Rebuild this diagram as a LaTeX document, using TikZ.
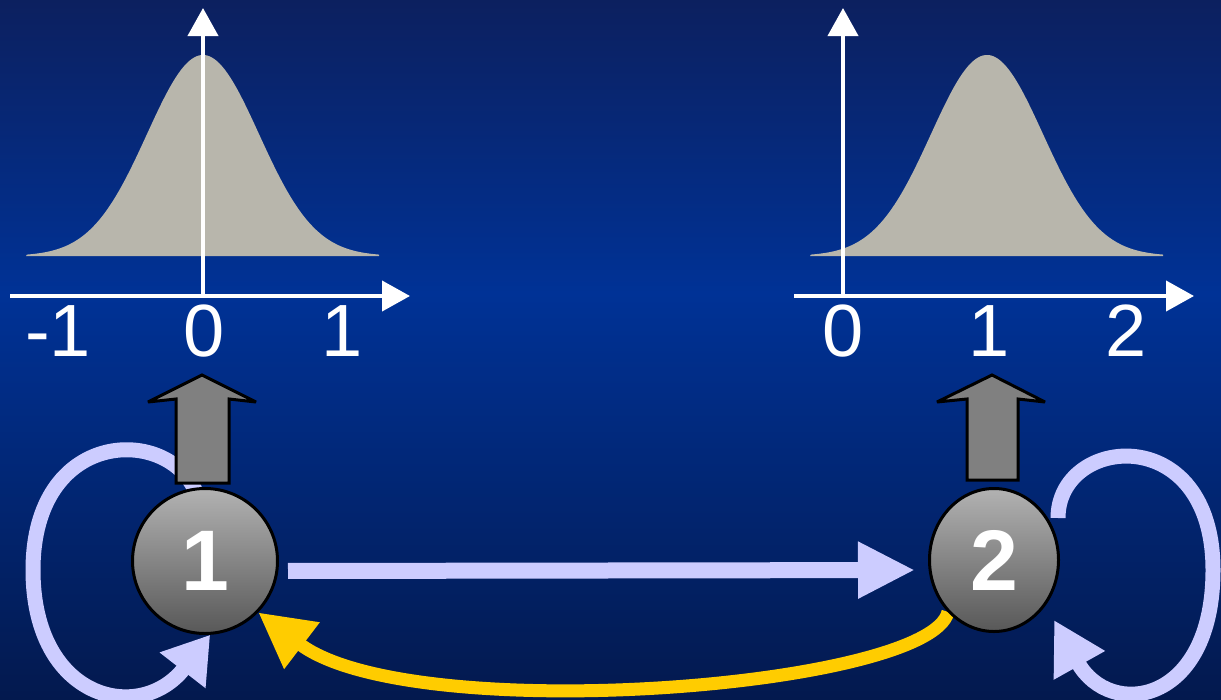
\documentclass[tikz,border=0pt]{standalone}
\usepackage{fontspec}
\setmainfont{Liberation Sans}
\usetikzlibrary{arrows.meta,shapes.geometric,calc}
\definecolor{bgtop}{RGB}{12,32,95}
\definecolor{bgmid}{RGB}{0,50,150}
\definecolor{bgbot}{RGB}{3,25,78}
\definecolor{gaussgray}{RGB}{184,182,172}
\definecolor{lavender}{RGB}{204,204,255}
\definecolor{yel}{RGB}{255,204,0}
\definecolor{blockgray}{RGB}{128,128,128}
\definecolor{nodetop}{RGB}{178,178,178}
\definecolor{nodebot}{RGB}{88,88,88}
\pgfdeclareverticalshading{bgshade}{100bp}{color(0bp)=(bgbot); color(25bp)=(bgbot); color(54bp)=(bgmid); color(75bp)=(bgtop); color(100bp)=(bgtop)}
\pgfdeclarelayer{bg}
\pgfdeclarelayer{mid}
\pgfsetlayers{bg,mid,main}
\begin{document}
\begin{tikzpicture}[x=1pt,y=-1pt,
  axis/.style={white,line width=4pt,-{Triangle[width=30pt,length=28pt]}},
  gauss/.style={fill=gaussgray},
  tick/.style={white,font=\fontsize{74}{80}\selectfont,anchor=base,inner sep=0pt},
  state/.style={draw=black,line width=3pt,top color=nodetop,bottom color=nodebot,text=white,font=\bfseries\fontsize{86}{90}\selectfont,inner sep=0pt},
  lav/.style={draw=lavender,line width=15pt},
  yelarrow/.style={draw=yel,line width=13pt},
  blockarrow/.style={fill=blockgray,draw=black,line width=3pt,line join=miter,miter limit=3}
]
\useasboundingbox (0,0) rectangle (1221,699);
\begin{pgfonlayer}{bg}
\shade[shading=bgshade] (0,0) rectangle (1221,699);
% left distribution
\fill[gauss] (26,256) -- plot[domain=-176:176,samples=140] ({203+\x},{256-201*exp(-0.5*(\x/56)^2)}) -- (379,256) -- cycle;
\draw[axis] (10,296) -- (410,296);
\draw[axis] (203,296) -- (203,8);
% right distribution
\fill[gauss] (810,256) -- plot[domain=-176:176,samples=140] ({987+\x},{256-201*exp(-0.5*(\x/56)^2)}) -- (1163,256) -- cycle;
\draw[axis] (794,296) -- (1194,296);
\draw[axis] (843,296) -- (843,8);
\end{pgfonlayer}
\node[tick] (la) at (58,356) {-1};
\node[tick] (lb) at (204,356) {0};
\node[tick] (lc) at (342,356) {1};
\node[tick] (ra) at (843,356) {0};
\node[tick] (rb) at (989,356) {1};
\node[tick] (rc) at (1126,356) {2};
% states
\node[state,circle,minimum size=145pt] (n1) at (205,561) {1};
\node[state,ellipse,minimum width=129pt,minimum height=143pt] (n2) at (994,560) {2};
% block arrows
\begin{scope}[shift={(n1.north)}]
\draw[blockarrow] (-29,-4) -- (-29,-88) -- (-57,-85) -- (-3,-112) -- (51,-85) -- (24,-88) -- (24,-4) -- cycle;
\end{scope}
\begin{scope}[shift={(n2.north)}]
\draw[blockarrow] (-27,-7) -- (-27,-88) -- (-57,-85) -- (-2,-112) -- (51,-85) -- (24,-88) -- (24,-7) -- cycle;
\end{scope}
\begin{pgfonlayer}{mid}
\draw[lav,line width=16pt,-{Triangle[width=53pt,length=57pt]},shorten <=9pt,shorten >=13pt] ([yshift=-10pt]n1.east) -- ([yshift=-10pt]n2.west);
\draw[lav,-{Triangle[width=55pt,length=45pt]}] ($(n1)+(-10,-71)$) .. controls (165,425) and (33,430) .. (33,570) .. controls (33,700) and (140,725) .. (n1.-86);
\draw[lav,-{Triangle[width=55pt,length=52pt]}] ($(n2.east)+(-2,-42)$) .. controls (1058,435) and (1213,420) .. (1213,570) .. controls (1213,705) and (1110,720) .. ($(n2)+(60,60)$);
\draw[yelarrow,-{Triangle[width=55pt,length=55pt]}] ($(n2)+(-46,52)$) .. controls (930,688) and (410,728) .. (n1.-44.5);
\end{pgfonlayer}
\end{tikzpicture}
\end{document}
